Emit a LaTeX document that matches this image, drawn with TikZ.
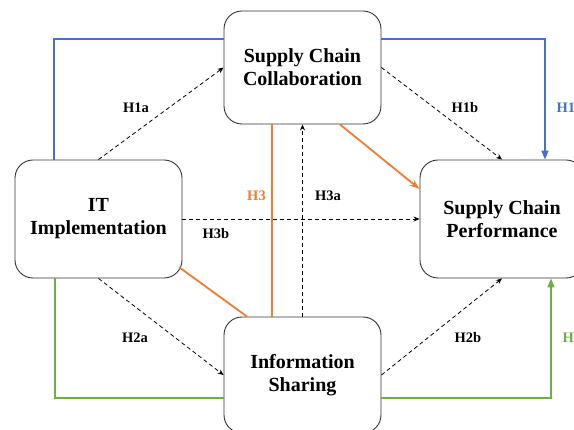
\documentclass[tikz,border=0pt]{standalone}
\usepackage{fontspec}
\setmainfont{Liberation Serif}
\usetikzlibrary{arrows.meta}
\definecolor{hblue}{HTML}{4472C4}
\definecolor{horange}{HTML}{ED7D31}
\definecolor{hgreen}{HTML}{70AD47}
\begin{document}
\begin{tikzpicture}[x=1pt,y=-1pt,
  box/.style={draw=black!80,line width=0.9pt,rounded corners=18pt,fill=white,
    align=center,inner sep=0pt,font=\fontsize{20}{23}\selectfont\bfseries},
  hyp/.style={font=\fontsize{14.5}{16}\selectfont\bfseries},
  dashedarrow/.style={draw=black,line width=0.8pt,dash pattern=on 4pt off 3pt,
    -{Stealth[length=6pt,width=5pt]}},
  bluepath/.style={draw=hblue,line width=1.8pt},
  greenpath/.style={draw=hgreen,line width=1.8pt},
  orangepath/.style={draw=horange,line width=1.8pt}]
\clip (0,0) rectangle (574,430);
\fill[white] (0,0) rectangle (574,430);

\node[box,minimum width=157pt,minimum height=113pt] (scc) at (302.5,67.5) {Supply Chain\\Collaboration};
\node[box,minimum width=167pt,minimum height=118pt] (it) at (98.5,219) {IT\\Implementation};
\node[box,minimum width=164pt,minimum height=118pt] (scp) at (502,219) {Supply Chain\\Performance};
\node[box,minimum width=157pt,minimum height=116pt] (is) at (302.5,375) {Information\\Sharing};

% blue H1
\coordinate (b1) at ([shift={(-44.5,0)}]it.north);
\coordinate (b2) at ([shift={(0,-28.5)}]scc.west);
\coordinate (b3) at ([shift={(0,-28.5)}]scc.east);
\coordinate (b4) at ([shift={(43,0)}]scp.north);
\draw[bluepath] (b1) |- (b2);
\draw[bluepath,-{Triangle[length=9pt,width=7pt]}] (b3) -| (b4);

% green H2
\coordinate (g1) at ([shift={(-43.5,0)}]it.south);
\coordinate (g2) at ([shift={(0,23)}]is.west);
\coordinate (g3) at ([shift={(0,23)}]is.east);
\coordinate (g4) at ([shift={(49,0)}]scp.south);
\draw[greenpath] (g1) |- (g2);
\draw[greenpath,-{Triangle[length=9pt,width=7pt]}] (g3) -| (g4);

% dashed hypotheses
\draw[dashedarrow] (it.north) -- (scc.west);
\draw[dashedarrow] (scc.east) -- (scp.north);
\draw[dashedarrow] (it.south) -- (is.west);
\draw[dashedarrow] (is.east) -- (scp.south);
\draw[dashedarrow] (it.east) -- (scp.west);
\draw[dashedarrow] (is.north) -- (scc.south);

% orange H3
\draw[orangepath] ([shift={(-30.5,0)}]scc.south) -- ([shift={(-30.5,0)}]is.north);
\draw[orangepath] ([shift={(-3,-11)}]it.south east) -- ([shift={(-55.5,0)}]is.north);
\draw[orangepath,-{Stealth[length=10pt,width=7pt]}] ([shift={(37.5,0)}]scc.south) -- ([shift={(0,-30)}]scp.west);

% labels
\node[hyp] (l1a) at (136,108) {H1a};
\node[hyp] (l1b) at (465,108) {H1b};
\node[hyp,text=hblue,anchor=west] (l1) at (553,108) {H1};
\node[hyp] (l2a) at (135,338) {H2a};
\node[hyp] (l2b) at (468,338) {H2b};
\node[hyp,text=hgreen,anchor=west] (l2) at (559,338) {H2};
\node[hyp,text=horange] (l3) at (256.5,196) {H3};
\node[hyp] (l3a) at (328,196) {H3a};
\node[hyp] (l3b) at (216,234) {H3b};
\end{tikzpicture}
\end{document}
